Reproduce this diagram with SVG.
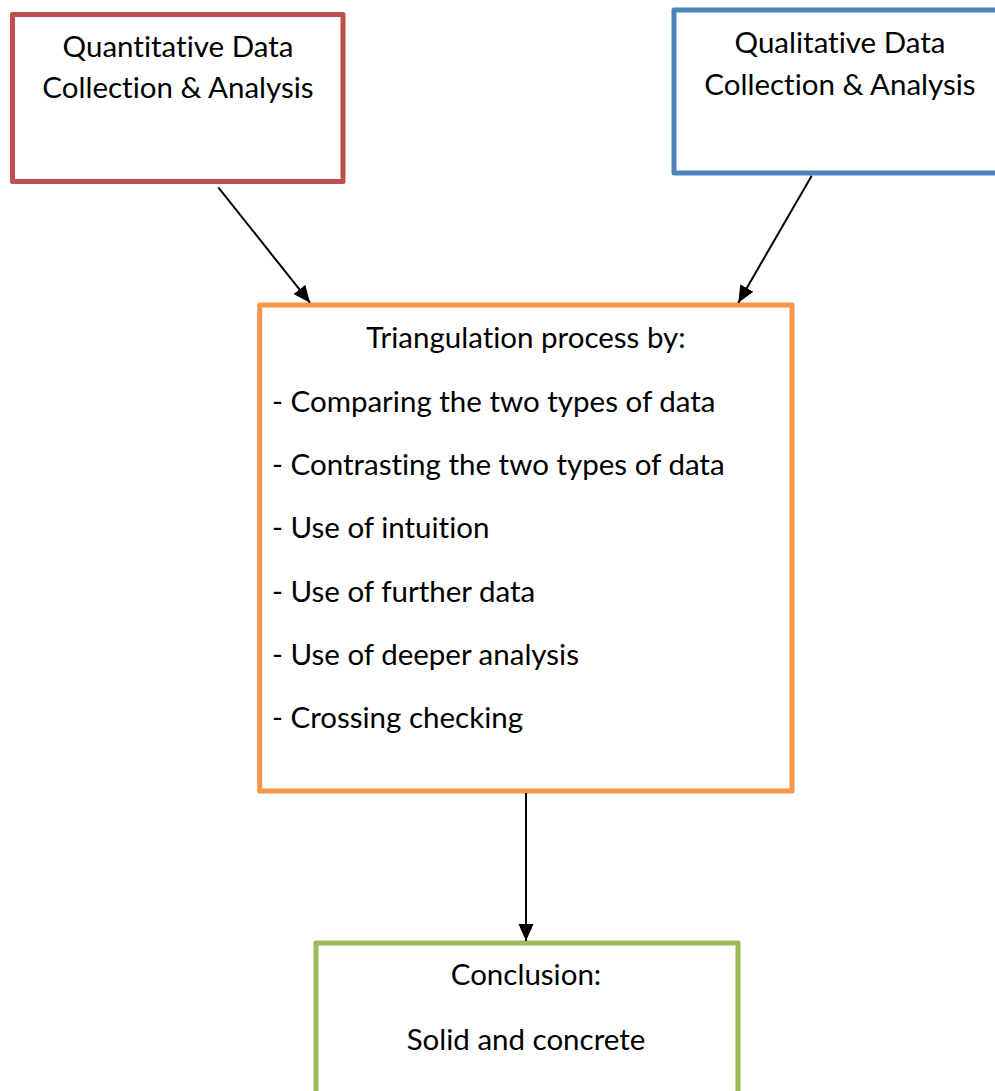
<svg xmlns="http://www.w3.org/2000/svg" width="995" height="1091" viewBox="0 0 995 1091">
<defs>
<style>
.box{fill:#fff;stroke-width:5;stroke-linejoin:round}
.t{font-family:Lato,"Open Sans","Liberation Sans",sans-serif;font-size:29.5px;fill:#000;font-variant-ligatures:none;font-feature-settings:"liga" 0}
.c{text-anchor:middle}
.conn line{stroke:#000;stroke-width:2}
</style>
<marker id="ah" markerUnits="userSpaceOnUse" markerWidth="18" markerHeight="18" viewBox="0 0 18 18" refX="17" refY="9" orient="auto">
<path d="M0,1.5 L17,9 L0,16.5 Z" fill="#000"/>
</marker>
</defs>
<rect width="995" height="1091" fill="#fff"/>
<g id="quant">
<rect class="box" x="12.5" y="14.5" width="330.5" height="167" stroke="#C0504D"/>
<text class="t c" x="178" y="57">Quantitative Data</text>
<text class="t c" x="178" y="98">Collection &amp; Analysis</text>
</g>
<g id="qual">
<rect class="box" x="674" y="10" width="340" height="163" stroke="#4F81BD"/>
<text class="t c" x="840" y="53">Qualitative Data</text>
<text class="t c" x="840" y="95">Collection &amp; Analysis</text>
</g>
<g id="triangulation">
<rect class="box" x="259.7" y="305" width="532.3" height="486" stroke="#F79646"/>
<text class="t c" x="526" y="348">Triangulation process by:</text>
<text class="t" x="272" y="412">- Comparing the two types of data</text>
<text class="t" x="272" y="475">- Contrasting the two types of data</text>
<text class="t" x="272" y="538">- Use of intuition</text>
<text class="t" x="272" y="602">- Use of further data</text>
<text class="t" x="272" y="665">- Use of deeper analysis</text>
<text class="t" x="272" y="728">- Crossing checking</text>
</g>
<g id="conclusion">
<rect class="box" x="316" y="943" width="422" height="170" stroke="#9BBB59"/>
<text class="t c" x="526" y="985">Conclusion:</text>
<text class="t c" x="526" y="1050">Solid and concrete</text>
</g>
<g class="conn" id="connectors">
<line x1="218.3" y1="187.3" x2="310" y2="302.7" marker-end="url(#ah)"/>
<line x1="811.7" y1="175.7" x2="738.3" y2="302.7" marker-end="url(#ah)"/>
<line x1="526" y1="793" x2="526" y2="941" marker-end="url(#ah)"/>
</g>
</svg>
